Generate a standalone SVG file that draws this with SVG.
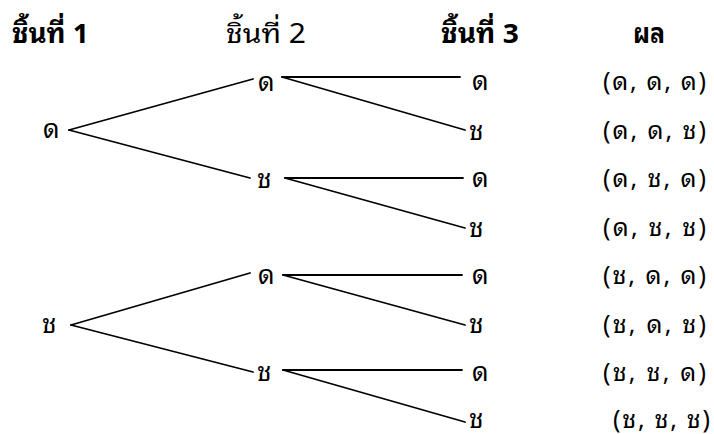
<svg xmlns="http://www.w3.org/2000/svg" width="714" height="434" viewBox="0 0 714 434">
<style>
text{font-family:"Noto Sans Thai Looped","Loma","Noto Sans Thai","Garuda","Noto Sans","DejaVu Sans",sans-serif;fill:#000}
.h{font-size:27px;font-weight:bold}
.h2{font-size:27px;font-weight:normal}
.n{font-size:26px}
.r{font-size:25px}
#edges line{stroke:#000;stroke-width:1.8;stroke-linecap:round}
</style>
<rect width="714" height="434" fill="#fff"/>
<g id="headers">
<text class="h" x="12" y="43" textLength="77" lengthAdjust="spacingAndGlyphs">ชิ้นที่ 1</text>
<text class="h2" x="226" y="43" textLength="80" lengthAdjust="spacingAndGlyphs">ชิ้นที่ 2</text>
<text class="h" x="441" y="43" textLength="78" lengthAdjust="spacingAndGlyphs">ชิ้นที่ 3</text>
<text class="h" x="633" y="43" textLength="32" lengthAdjust="spacingAndGlyphs">ผล</text>
</g>
<g id="edges">
<line x1="69" y1="130" x2="253" y2="79"/>
<line x1="69" y1="130" x2="250" y2="178"/>
<line x1="71" y1="325" x2="250" y2="273"/>
<line x1="71" y1="325" x2="253" y2="372"/>
<line x1="282" y1="77" x2="460" y2="77"/>
<line x1="282" y1="77" x2="465" y2="130"/>
<line x1="285" y1="178" x2="463" y2="178"/>
<line x1="285" y1="178" x2="465" y2="228"/>
<line x1="283" y1="275" x2="462" y2="275"/>
<line x1="283" y1="275" x2="465" y2="325"/>
<line x1="283" y1="370" x2="462" y2="370"/>
<line x1="283" y1="370" x2="465" y2="422"/>
</g>
<g id="n1d"><text class="n" x="43" y="138">ด</text></g>
<g id="n1c"><text class="n" x="42" y="333">ช</text></g>
<g id="n2dd"><text class="n" x="258" y="91">ด</text></g>
<g id="n2dc"><text class="n" x="257" y="188">ช</text></g>
<g id="n2cd"><text class="n" x="258" y="284">ด</text></g>
<g id="n2cc"><text class="n" x="257" y="381">ช</text></g>
<g id="n3a"><text class="n" x="472" y="90">ด</text></g>
<g id="n3b"><text class="n" x="469" y="140">ช</text></g>
<g id="n3c"><text class="n" x="472" y="187">ด</text></g>
<g id="n3d"><text class="n" x="469" y="237">ช</text></g>
<g id="n3e"><text class="n" x="472" y="284">ด</text></g>
<g id="n3f"><text class="n" x="469" y="333">ช</text></g>
<g id="n3g"><text class="n" x="472" y="381">ด</text></g>
<g id="n3h"><text class="n" x="469" y="428">ช</text></g>
<g id="results">
<text class="r" x="603" y="90" textLength="103" lengthAdjust="spacing">(ด, ด, ด)</text>
<text class="r" x="603" y="139" textLength="103" lengthAdjust="spacing">(ด, ด, ช)</text>
<text class="r" x="603" y="187" textLength="103" lengthAdjust="spacing">(ด, ช, ด)</text>
<text class="r" x="603" y="236" textLength="103" lengthAdjust="spacing">(ด, ช, ช)</text>
<text class="r" x="603" y="284" textLength="103" lengthAdjust="spacing">(ช, ด, ด)</text>
<text class="r" x="603" y="333" textLength="103" lengthAdjust="spacing">(ช, ด, ช)</text>
<text class="r" x="603" y="381" textLength="103" lengthAdjust="spacing">(ช, ช, ด)</text>
<text class="r" x="613" y="428" textLength="97" lengthAdjust="spacing">(ช, ช, ช)</text>
</g>
</svg>
